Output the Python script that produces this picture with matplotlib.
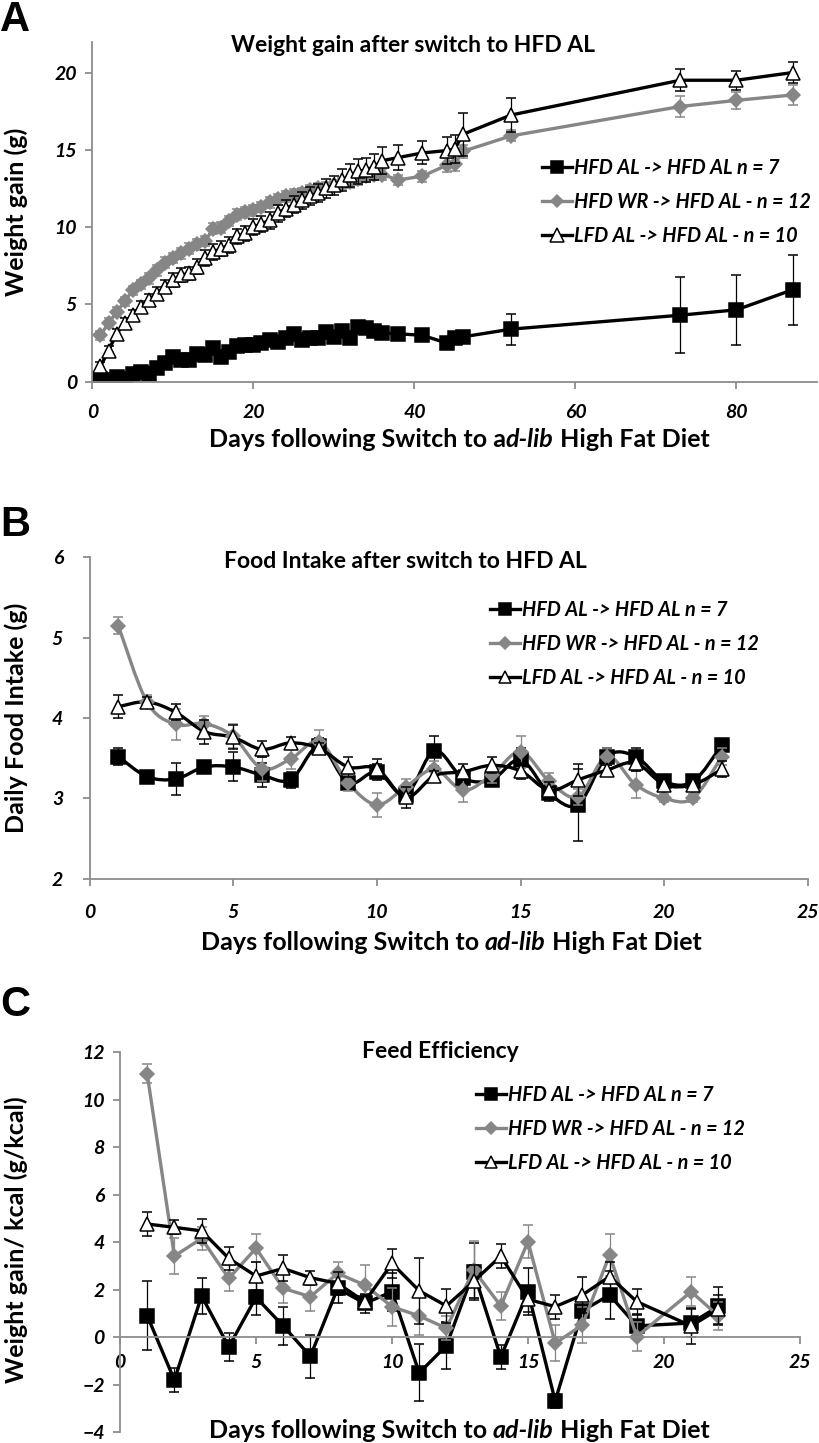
import matplotlib
matplotlib.use("Agg")
import matplotlib.pyplot as plt
from matplotlib.lines import Line2D
from matplotlib.path import Path
from matplotlib.patches import PathPatch

plt.rcParams["font.family"] = ["Lato", "DejaVu Sans"]

W, H = 819, 1443

LEGEND_LABELS = ["HFD AL -> HFD AL n = 7",
                 "HFD WR -> HFD AL - n = 12",
                 "LFD AL -> HFD AL - n = 10"]

# ---- panel A: weight gain (g) ----
days_a = [1, 2, 3, 4, 5, 6, 7, 8, 9, 10, 11, 12, 13, 14, 15, 16, 17, 18,
          19, 20, 21, 22, 23, 24, 25, 26, 27, 28, 29, 30, 31, 32, 33, 34,
          35, 36, 38, 41, 44, 45, 46, 52, 73, 80, 87]
hfd_al_a = [0.2, 0.1, 0.3, 0.2, 0.5, 0.6, 0.5, 0.9, 1.2, 1.6, 1.4, 1.4,
            1.8, 1.7, 2.2, 1.6, 1.9, 2.3, 2.4, 2.4, 2.5, 2.7, 2.6, 2.8,
            3.1, 2.7, 2.8, 2.8, 3.2, 2.9, 3.3, 2.8, 3.55, 3.45, 3.25, 3.15,
            3.1, 3.0, 2.5, 2.8, 2.9, 3.4, 4.3, 4.65, 5.95]
hfd_al_a_err = [0.2, 0.3, 0.2, 0.2, 0.2, 0.2, 0.2, 0.2, 0.2, 0.2, 0.2, 0.2,
                0.2, 0.2, 0.2, 0.2, 0.2, 0.2, 0.2, 0.2, 0.2, 0.2, 0.2, 0.2,
                0.2, 0.2, 0.2, 0.2, 0.2, 0.2, 0.2, 0.2, 0.2, 0.2, 0.2, 0.2,
                0.2, 0.2, 0.2, 0.3, 0.35, 1.0, 2.45, 2.25, 2.25]
hfd_wr_a = [3.0, 3.8, 4.5, 5.2, 5.9, 6.3, 6.7, 7.2, 7.7, 8.0, 8.3, 8.6,
            8.9, 9.1, 9.9, 9.95, 10.4, 10.8, 10.95, 11.1, 11.3, 11.6, 11.8,
            12.0, 12.1, 12.2, 12.4, 12.5, 12.55, 12.7, 12.8, 12.9, 13.1,
            13.3, 13.4, 13.4, 13.05, 13.3, 14.0, 14.05, 14.9, 15.9, 17.8,
            18.2, 18.55]
hfd_wr_a_err = [0.3, 0.3, 0.3, 0.3, 0.3, 0.3, 0.35, 0.35, 0.35, 0.35, 0.35,
                0.35, 0.35, 0.35, 0.35, 0.35, 0.35, 0.35, 0.35, 0.35, 0.35,
                0.35, 0.35, 0.35, 0.35, 0.35, 0.35, 0.35, 0.35, 0.35, 0.35,
                0.35, 0.35, 0.35, 0.35, 0.35, 0.35, 0.35, 0.45, 0.45, 0.4,
                0.35, 0.65, 0.55, 0.65]
lfd_al_a = [1.0, 2.0, 3.1, 3.8, 4.3, 4.85, 5.3, 5.7, 6.15, 6.55, 6.9, 7.0,
            7.45, 8.0, 8.4, 8.6, 8.85, 9.4, 9.6, 10.0, 10.2, 10.45, 10.9,
            11.2, 11.45, 11.75, 12.0, 12.2, 12.5, 12.7, 13.05, 13.35, 13.6,
            13.7, 13.9, 14.3, 14.5, 14.8, 14.95, 15.05, 16.0, 17.25, 19.5,
            19.5, 20.0]
lfd_al_a_err = [0.3, 0.3, 0.3, 0.35, 0.35, 0.35, 0.4, 0.4, 0.4, 0.45, 0.45,
                0.45, 0.5, 0.5, 0.5, 0.5, 0.5, 0.5, 0.5, 0.5, 0.5, 0.55, 0.55,
                0.55, 0.55, 0.55, 0.6, 0.6, 0.6, 0.6, 0.7, 0.75, 0.8, 0.8,
                0.85, 0.85, 0.8, 0.75, 0.9, 0.9, 1.4, 1.1, 0.7, 0.6, 0.65]

# ---- panel B: daily food intake (g) ----
days_b = [1, 2, 3, 4, 5, 6, 7, 8, 9, 10, 11, 12, 13, 14, 15, 16, 17, 18,
          19, 20, 21, 22]
hfd_al_b = [3.52, 3.27, 3.24, 3.39, 3.39, 3.29, 3.23, 3.65, 3.19, 3.33,
            3.04, 3.59, 3.25, 3.23, 3.48, 3.06, 2.92, 3.52, 3.52, 3.21,
            3.21, 3.66]
hfd_al_b_err = [0.1, 0.06, 0.2, 0.06, 0.18, 0.15, 0.1, 0.1, 0.07, 0.1,
                0.1, 0.19, 0.1, 0.08, 0.15, 0.1, 0.45, 0.1, 0.1, 0.05,
                0.05, 0.05]
hfd_wr_b = [5.15, 4.2, 3.92, 3.93, 3.77, 3.37, 3.49, 3.7, 3.19, 2.92, 3.14,
            3.36, 3.1, 3.29, 3.58, 3.21, 3.02, 3.52, 3.17, 3.0, 3.0, 3.52]
hfd_wr_b_err = [0.11, 0.08, 0.19, 0.1, 0.15, 0.15, 0.12, 0.15, 0.1, 0.15,
                0.1, 0.1, 0.15, 0.1, 0.2, 0.1, 0.1, 0.1, 0.17, 0.05, 0.05,
                0.1]
lfd_al_b = [4.14, 4.2, 4.07, 3.83, 3.76, 3.61, 3.69, 3.62, 3.39, 3.37, 3.01,
            3.28, 3.33, 3.41, 3.34, 3.1, 3.23, 3.35, 3.44, 3.17, 3.17, 3.36]
lfd_al_b_err = [0.14, 0.06, 0.1, 0.15, 0.15, 0.1, 0.07, 0.07, 0.12, 0.12,
                0.13, 0.06, 0.1, 0.1, 0.1, 0.1, 0.2, 0.07, 0.1, 0.05, 0.05,
                0.1]

# ---- panel C: feed efficiency (g/kcal) ----
days_c = [1, 2, 3, 4, 5, 6, 7, 8, 9, 10, 11, 12, 13, 14, 15, 16, 17, 18,
          19, 21, 22]
hfd_al_c = [0.91, -1.8, 1.74, -0.4, 1.68, 0.48, -0.8, 2.06, 1.43, 1.92,
            -1.5, -0.35, 2.75, -0.83, 1.92, -2.68, 1.12, 1.78, 0.48, 0.6,
            1.3]
hfd_al_c_err = [1.44, 0.5, 0.77, 0.6, 0.75, 0.8, 0.9, 0.6, 0.4, 0.8, 1.2,
                1.0, 1.2, 0.5, 1.0, 0.3, 0.5, 1.0, 0.5, 0.6, 0.8]
hfd_wr_c = [11.09, 3.42, 4.16, 2.48, 3.75, 2.06, 1.71, 2.69, 2.2, 1.29, 0.9,
            0.38, 2.84, 1.32, 4.03, -0.25, 0.52, 3.47, 0.03, 1.92, 0.9]
hfd_wr_c_err = [0.4, 0.77, 0.5, 0.55, 0.6, 0.6, 0.6, 0.5, 0.85, 0.8, 0.8,
                0.5, 1.2, 0.6, 0.7, 0.75, 0.75, 0.9, 0.6, 0.6, 0.6]
lfd_al_c = [4.77, 4.63, 4.48, 3.32, 2.58, 2.9, 2.51, 2.27, 1.5, 3.11, 1.96,
            1.32, 2.35, 3.42, 1.6, 1.29, 1.78, 2.56, 1.5, 0.48, 1.18]
lfd_al_c_err = [0.52, 0.3, 0.5, 0.5, 0.6, 0.55, 0.3, 0.5, 0.3, 0.6, 1.4,
                0.7, 0.7, 0.5, 0.55, 0.5, 0.75, 0.6, 0.55, 0.75, 0.6]

GRAY = "#868686"
AXIS_GRAY = "#8c8c8c"
TICK_SIZE = 14
LABEL_SIZE = 18


def px_axes(fig, left, top, right, bottom):
    """Add axes from pixel edges (origin top-left)."""
    return fig.add_axes([left / W, 1 - bottom / H, (right - left) / W,
                         (bottom - top) / H])


def smooth_path(x, y):
    # Excel-style "smoothed line": cubic Bezier through every point
    verts = [(x[0], y[0])]
    codes = [Path.MOVETO]
    n = len(x)
    for i in range(n - 1):
        p0 = (x[max(i - 1, 0)], y[max(i - 1, 0)])
        p1 = (x[i], y[i])
        p2 = (x[i + 1], y[i + 1])
        p3 = (x[min(i + 2, n - 1)], y[min(i + 2, n - 1)])
        c1 = (p1[0] + (p2[0] - p0[0]) / 6, p1[1] + (p2[1] - p0[1]) / 6)
        c2 = (p2[0] - (p3[0] - p1[0]) / 6, p2[1] - (p3[1] - p1[1]) / 6)
        verts += [c1, c2, p2]
        codes += [Path.CURVE4] * 3
    return Path(verts, codes)


def draw_series(ax, x, ys, errs, ms, smooth=False):
    styles = [
        dict(color="black", marker="s", mfc="black", mec="black", ms=ms),
        dict(color=GRAY, marker="D", mfc=GRAY, mec=GRAY, ms=ms * 0.72),
        dict(color="black", marker="^", mfc="white", mec="black",
             ms=ms * 1.05),
    ]
    handles = []
    for k, (y, e, st, lab) in enumerate(zip(ys, errs, styles,
                                            LEGEND_LABELS)):
        if smooth:
            ax.add_patch(PathPatch(smooth_path(x, y), fill=False,
                                   edgecolor=st["color"], lw=2.4,
                                   zorder=2 + k * 0.1))
        ax.errorbar(x, y, yerr=e, color=st["color"], lw=2.4,
                    ls="none" if smooth else "-",
                    marker=st["marker"], mfc=st["mfc"], mec=st["mec"],
                    mew=1.1, ms=st["ms"], ecolor=st["color"],
                    elinewidth=0.9, capsize=3.5, capthick=0.9,
                    zorder=2.05 + k * 0.1)
        handles.append(Line2D([], [], color=st["color"], lw=2.4,
                              marker=st["marker"], mfc=st["mfc"],
                              mec=st["mec"], mew=1.1, ms=st["ms"] * 0.9,
                              label=lab))
    return handles


def style_axes(ax):
    for s in ["top", "right"]:
        ax.spines[s].set_visible(False)
    for s in ["left", "bottom"]:
        ax.spines[s].set_color(AXIS_GRAY)
        ax.spines[s].set_linewidth(1.3)
    ax.tick_params(color=AXIS_GRAY, width=1.3, length=5, labelsize=TICK_SIZE)
    for lab in ax.get_xticklabels() + ax.get_yticklabels():
        lab.set_fontweight("bold")
        lab.set_fontstyle("italic")


def mixed_text(fig, cx, cy, pieces, size, weight):
    """Centre a line made of (text, style) pieces at pixel (cx, cy)."""
    renderer = fig.canvas.get_renderer()
    texts = [fig.text(0, 1 - cy / H, s, fontsize=size, fontweight=weight,
                      fontstyle=st, va="center", ha="left")
             for s, st in pieces]
    widths = [t.get_window_extent(renderer).width for t in texts]
    x = cx - sum(widths) / 2
    for t, w in zip(texts, widths):
        t.set_x(x / W)
        x += w


def legend(ax, handles, x, y):
    ax.legend(handles=handles, loc="upper left",
              bbox_to_anchor=(x / W, 1 - y / H),
              bbox_transform=ax.figure.transFigure, frameon=False,
              handlelength=1.5, handletextpad=0.1, labelspacing=0.7,
              borderaxespad=0,
              prop=dict(size=14.3, weight="bold", style="italic"))


fig = plt.figure(figsize=(W / 100, H / 100), dpi=100)

# ---------------- A ----------------
ax_a = px_axes(fig, 92.4, 41.6, 817, 381.7)
h = draw_series(ax_a, days_a, [hfd_al_a, hfd_wr_a, lfd_al_a],
                [hfd_al_a_err, hfd_wr_a_err, lfd_al_a_err], ms=10)
ax_a.set_xlim(0, 90)
ax_a.set_ylim(0, 22)
ax_a.set_xticks([0, 20, 40, 60, 80])
ax_a.set_yticks([0, 5, 10, 15, 20])
ax_a.tick_params(axis="x", pad=11)
ax_a.tick_params(axis="y", pad=6)
style_axes(ax_a)
legend(ax_a, h, 534, 150)
fig.text(413 / W, 1 - 45 / H, "Weight gain after switch to HFD AL",
         ha="center", va="center", fontsize=16.5, fontweight="bold")
fig.text(16 / W, 1 - 212 / H, "Weight gain (g)", rotation=90,
         ha="center", va="center", fontsize=LABEL_SIZE, fontweight="bold")
mixed_text(fig, 459, 440, [("Days following Switch to a", "normal"),
                           ("d-lib", "italic"),
                           (" High Fat Diet", "normal")], LABEL_SIZE, "bold")
fig.text(0 / W, 1 - 20 / H, "A", ha="left", va="center", fontsize=30,
         fontweight="bold", family=["Liberation Sans", "DejaVu Sans"])

# ---------------- B ----------------
ax_b = px_axes(fig, 89.5, 557.3, 808, 878.6)
h = draw_series(ax_b, days_b, [hfd_al_b, hfd_wr_b, lfd_al_b],
                [hfd_al_b_err, hfd_wr_b_err, lfd_al_b_err], ms=9.5,
                smooth=True)
ax_b.set_xlim(0, 25)
ax_b.set_ylim(2, 6)
ax_b.set_xticks([0, 5, 10, 15, 20, 25])
ax_b.set_yticks([2, 3, 4, 5, 6])
ax_b.tick_params(axis="x", pad=13)
ax_b.tick_params(axis="y", pad=14)
style_axes(ax_b)
legend(ax_b, h, 482, 592)
fig.text(405 / W, 1 - 562 / H, "Food Intake after switch to HFD AL",
         ha="center", va="center", fontsize=16.5, fontweight="bold")
fig.text(16 / W, 1 - 718 / H, "Daily Food Intake (g)", rotation=90,
         ha="center", va="center", fontsize=LABEL_SIZE, fontweight="bold")
mixed_text(fig, 451, 943, [("Days following Switch to ", "normal"),
                           ("ad-lib", "italic"),
                           (" High Fat Diet", "normal")], LABEL_SIZE, "bold")
fig.text(0 / W, 1 - 525 / H, "B", ha="left", va="center", fontsize=30,
         fontweight="bold", family=["Liberation Sans", "DejaVu Sans"])

# ---------------- C ----------------
ax_c = px_axes(fig, 120, 1052.3, 800, 1432.3)
h = draw_series(ax_c, days_c, [hfd_al_c, hfd_wr_c, lfd_al_c],
                [hfd_al_c_err, hfd_wr_c_err, lfd_al_c_err], ms=9.5)
ax_c.set_xlim(0, 25)
ax_c.set_ylim(-4, 12)
ax_c.set_xticks([0, 5, 10, 15, 20, 25])
ax_c.set_yticks([-4, -2, 0, 2, 4, 6, 8, 10, 12])
ax_c.spines["bottom"].set_position(("data", 0))
ax_c.tick_params(axis="x", pad=7)
ax_c.tick_params(axis="y", pad=6)
style_axes(ax_c)
legend(ax_c, h, 468, 1077)
fig.text(440 / W, 1 - 1052 / H, "Feed Efficiency",
         ha="center", va="center", fontsize=16.5, fontweight="bold")
fig.text(16 / W, 1 - 1240 / H, "Weight gain/ kcal (g/kcal)", rotation=90,
         ha="center", va="center", fontsize=LABEL_SIZE, fontweight="bold")
mixed_text(fig, 459, 1430, [("Days following Switch to ", "normal"),
                            ("ad-lib", "italic"),
                            (" High Fat Diet", "normal")], LABEL_SIZE, "bold")
fig.text(0 / W, 1 - 1005 / H, "C", ha="left", va="center", fontsize=30,
         fontweight="bold", family=["Liberation Sans", "DejaVu Sans"])

fig.savefig("out.png", dpi=100)
